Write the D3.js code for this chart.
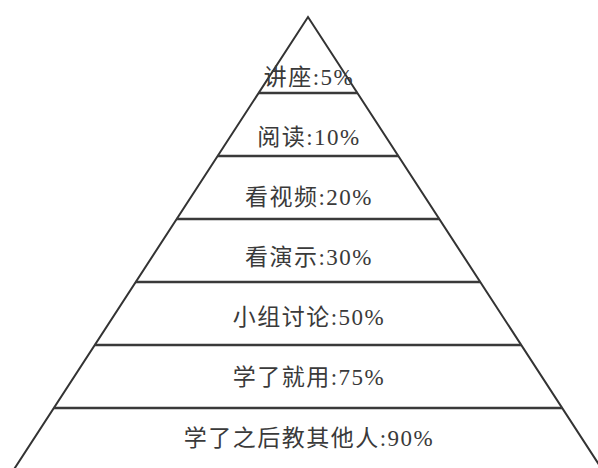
<!DOCTYPE html>
<html><head><meta charset="utf-8">
<script src="https://cdn.jsdelivr.net/npm/d3@7"></script>
<style>html,body{margin:0;padding:0;background:#fff;}svg{display:block;}</style>
</head><body>
<script>
const activities = ["讲座", "阅读", "看视频", "看演示", "小组讨论", "学了就用", "学了之后教其他人"];
const retention = [5, 10, 20, 30, 50, 75, 90];

const W = 598, H = 468;
const apex = {x: 308, y: 17};
const slope = 0.65; // half-width per px of depth

const svg = d3.select("body").append("svg").attr("width", W).attr("height", H);

// boundaries between layers (6 lines)
const boundaries = d3.range(1, activities.length);
const yLine = d3.scalePoint().domain(boundaries).range([93, 408]);
const yLabel = d3.scalePoint().domain(activities).range([77, 438]);

const halfW = y => (y - apex.y) * slope;

// triangle edges
const yEnd = H + 20;
svg.append("path")
  .attr("d", d3.line()([[apex.x - halfW(yEnd), yEnd], [apex.x, apex.y], [apex.x + halfW(yEnd), yEnd]]))
  .attr("fill", "none").attr("stroke", "#333").attr("stroke-width", 2).attr("stroke-linejoin", "miter");

svg.selectAll("line.sep").data(boundaries).join("line")
  .attr("class", "sep")
  .attr("x1", d => apex.x - halfW(yLine(d)))
  .attr("x2", d => apex.x + halfW(yLine(d)))
  .attr("y1", d => yLine(d)).attr("y2", d => yLine(d))
  .attr("stroke", "#3a3a3a").attr("stroke-width", 2.5);

svg.selectAll("text.lbl").data(activities).join("text")
  .attr("class", "lbl")
  .attr("x", apex.x + 1)
  .attr("y", d => yLabel(d))
  .attr("text-anchor", "middle")
  .attr("dominant-baseline", "central")
  .attr("font-family", "'Liberation Serif', 'Noto Sans CJK SC', serif")
  .attr("font-size", 23)
  .attr("letter-spacing", 1.5)
  .attr("fill", "#3a3a3a")
  .text((d, i) => d + ":" + retention[i] + "%");
</script>
</body></html>
